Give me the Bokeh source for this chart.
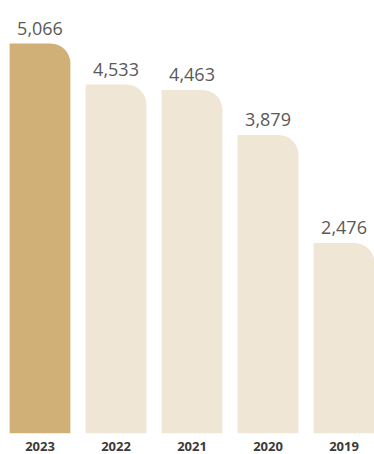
from bokeh.plotting import figure
from bokeh.models import ColumnDataSource, Range1d, FixedTicker
from bokeh.core.properties import value
from bokeh.embed import file_html
from bokeh.resources import INLINE

years = ["2023", "2022", "2021", "2020", "2019"]
values = [5066, 4533, 4463, 3879, 2476]
labels = ["5,066", "4,533", "4,463", "3,879", "2,476"]
colors = ["#D1B078", "#F0E6D6", "#F0E6D6", "#F0E6D6", "#F0E6D6"]

xs = list(range(len(years)))
src = ColumnDataSource(dict(x=xs, top=values, label=labels, color=colors))

p = figure(frame_width=366, frame_height=425, output_backend="svg", toolbar_location=None,
           x_range=Range1d(-0.4145, 4.401), y_range=Range1d(0, 5066 * 425 / 390),
           min_border=0, min_border_left=8, min_border_top=8,
           outline_line_color=None, background_fill_color="white",
           border_fill_color="white")

p.vbar(x="x", top="top", bottom=0, width=0.80, fill_color="color", line_color=None,
       source=src, border_radius=(0, 20, 0, 0))

p.text(x="x", y="top", text="label", source=src, text_align="center", text_baseline="alphabetic",
       y_offset=-15, text_font=value("Open Sans"), text_font_size="18px", text_color="#595959")

p.yaxis.visible = False
p.grid.visible = False
ax = p.xaxis[0]
ax.ticker = FixedTicker(ticks=xs)
ax.major_label_overrides = {i: y for i, y in enumerate(years)}
ax.axis_line_color = None
ax.major_tick_line_color = None
ax.minor_tick_line_color = None
ax.major_tick_out = 0
ax.major_tick_in = 0
ax.major_label_standoff = 8
ax.major_label_text_font = "Open Sans"
ax.major_label_text_font_style = "bold"
ax.major_label_text_font_size = "13px"
ax.major_label_text_color = "#3a3a3a"

open("out.html", "w").write(file_html(p, INLINE))
